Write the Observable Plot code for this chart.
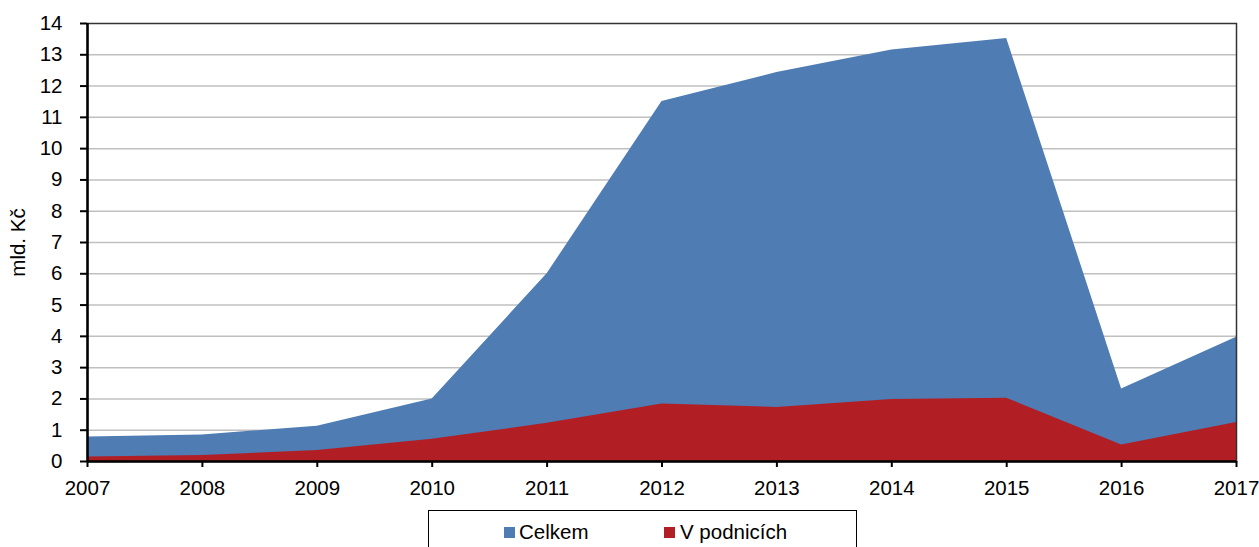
<!DOCTYPE html>
<html>
<head>
<meta charset="utf-8">
<script src="https://cdn.jsdelivr.net/npm/d3@7"></script>
<script src="https://cdn.jsdelivr.net/npm/@observablehq/plot@0.6"></script>
<style>
  html, body { margin: 0; padding: 0; background: #fff; }
  body { font-family: "Liberation Sans", Arial, sans-serif; width: 1259px; height: 547px; overflow: hidden; position: relative; }
  #legend { position: absolute; left: 428px; top: 510px; width: 429px; height: 60px; border: 1px solid #000; box-sizing: border-box; }
  .sw { position: absolute; width: 11px; height: 11px; top: 16px; }
  .lb { position: absolute; top: 9px; font-size: 20.5px; line-height: 23px; color: #000; }
</style>
</head>
<body>
<div id="chart"></div>
<div id="legend"></div>
<script>
const years = [2007, 2008, 2009, 2010, 2011, 2012, 2013, 2014, 2015, 2016, 2017];
const celkem = [0.78, 0.85, 1.13, 2.0, 6.0, 11.51, 12.43, 13.15, 13.52, 2.32, 3.97];
const vPodnicich = [0.14, 0.19, 0.35, 0.71, 1.22, 1.84, 1.73, 1.98, 2.02, 0.53, 1.25];
const yTicks = [0, 1, 2, 3, 4, 5, 6, 7, 8, 9, 10, 11, 12, 13, 14];
const seriesNames = ["Celkem", "V podnicích"];
const colors = ["#4e7cb3", "#b11f25"];
const yLabel = "mld. Kč";

const data = years.map((y, i) => ({year: y, celkem: celkem[i], podniky: vPodnicich[i]}));

const chart = Plot.plot({
  width: 1259,
  height: 505,
  marginLeft: 87,
  marginRight: 23,
  marginTop: 23,
  marginBottom: 44,
  style: {fontFamily: "'Liberation Sans', Arial, sans-serif", fontSize: "20.5px", color: "#000", background: "#fff"},
  x: {domain: [2007, 2017], label: null},
  y: {domain: [0, 14], label: null},
  marks: [
    Plot.ruleY(yTicks.filter(d => d > 0 && d < 14), {stroke: "#c0c0c0", strokeWidth: 1.5}),
    Plot.areaY(data, {x: "year", y: "celkem", fill: colors[0]}),
    Plot.areaY(data, {x: "year", y: "podniky", fill: colors[1]}),
    Plot.frame({stroke: "#333", strokeWidth: 1.5}),
    Plot.ruleY([0], {stroke: "#000", strokeWidth: 2.5}),
    Plot.ruleX([2007], {stroke: "#000", strokeWidth: 2.5}),
    Plot.axisX({ticks: years, tickFormat: d => String(d), tickSize: 6, tickPadding: 13, stroke: "#000", strokeWidth: 2, fontSize: 20.5, label: null}),
    Plot.axisY({ticks: yTicks, tickSize: 7, tickPadding: 18, stroke: "#000", strokeWidth: 2, fontSize: 20.5,
      label: yLabel, labelAnchor: "center", labelArrow: "none", labelOffset: 77})
  ]
});
document.getElementById("chart").appendChild(chart);

const legend = document.getElementById("legend");
const positions = [[75, 90], [235, 251]];
seriesNames.forEach((name, i) => {
  const sw = document.createElement("div");
  sw.className = "sw";
  sw.style.left = positions[i][0] + "px";
  sw.style.background = colors[i];
  legend.appendChild(sw);
  const lb = document.createElement("div");
  lb.className = "lb";
  lb.style.left = positions[i][1] + "px";
  lb.textContent = name;
  legend.appendChild(lb);
});
</script>
</body>
</html>
